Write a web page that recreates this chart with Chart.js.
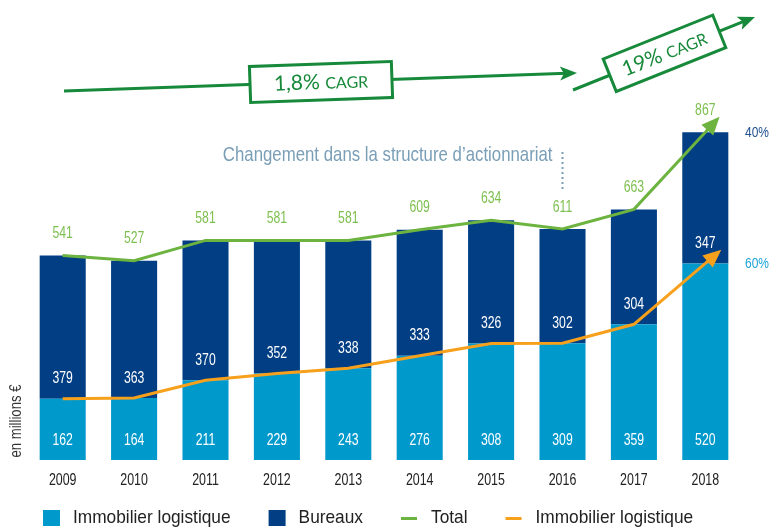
<!DOCTYPE html>
<html>
<head>
<meta charset="utf-8">
<script src="https://cdn.jsdelivr.net/npm/chart.js@4.4.0/dist/chart.umd.min.js"></script>
<style>
  html, body { margin: 0; padding: 0; background: #fff; }
</style>
</head>
<body>
<canvas id="chart" width="771" height="528"></canvas>
<script>
const years = ['2009', '2010', '2011', '2012', '2013', '2014', '2015', '2016', '2017', '2018'];
const logistique = [162, 164, 211, 229, 243, 276, 308, 309, 359, 520];
const bureaux = [379, 363, 370, 352, 338, 333, 326, 302, 304, 347];
const total = [541, 527, 581, 581, 581, 609, 634, 611, 663, 867];

const SANS = "'Liberation Sans', Arial, sans-serif";
const LIGHT = '#0099cb';
const DARK = '#023e84';
const GREEN = '#6cb33f';
const ORANGE = '#f6a01c';
const CAGR = '#17893a';

// no condensed face is installed, so squeeze Liberation Sans horizontally
function narrow(ctx, str, x, y, size, sx, color, align) {
  ctx.save();
  ctx.translate(x, y);
  ctx.scale(sx, 1);
  ctx.font = size + 'px ' + SANS;
  ctx.fillStyle = color;
  ctx.textAlign = align || 'center';
  ctx.textBaseline = 'middle';
  ctx.fillText(str, 0, 0);
  const w = ctx.measureText(str).width * sx;
  ctx.restore();
  return w;
}

// white values inside each bar segment + green totals above the line
const valueLabels = {
  id: 'valueLabels',
  afterDatasetsDraw(chart) {
    const ctx = chart.ctx;
    [0, 1].forEach(di => {
      const ds = chart.data.datasets[di];
      chart.getDatasetMeta(di).data.forEach((el, i) => {
        const p = el.getProps(['x', 'base'], true);
        narrow(ctx, String(ds.data[i]), p.x, p.base - 20, 16.5, 0.74, '#fff');
      });
    });
    const tds = chart.data.datasets[2];
    chart.getDatasetMeta(2).data.forEach((el, i) => {
      narrow(ctx, String(tds.data[i]), el.x, el.y - 22, 16.5, 0.74, '#7dbf4f');
    });
  }
};

// arrow heads at the end of both lines
const lineArrows = {
  id: 'lineArrows',
  afterDatasetsDraw(chart) {
    const ctx = chart.ctx;
    [2, 3].forEach(di => {
      const pts = chart.getDatasetMeta(di).data;
      const a = pts[pts.length - 2], b = pts[pts.length - 1];
      const dx = b.x - a.x, dy = b.y - a.y;
      const len = Math.hypot(dx, dy);
      const ux = dx / len, uy = dy / len;
      const color = chart.data.datasets[di].borderColor;
      ctx.save();
      ctx.strokeStyle = color;
      ctx.fillStyle = color;
      ctx.lineWidth = 3;
      ctx.beginPath();
      ctx.moveTo(b.x, b.y);
      ctx.lineTo(b.x + ux * 8, b.y + uy * 8);
      ctx.stroke();
      const tx = b.x + ux * 21, ty = b.y + uy * 21;
      const bx = b.x + ux * 3, by = b.y + uy * 3;
      ctx.beginPath();
      ctx.moveTo(tx, ty);
      ctx.lineTo(bx - uy * 8, by + ux * 8);
      ctx.lineTo(bx + uy * 8, by - ux * 8);
      ctx.closePath();
      ctx.fill();
      ctx.restore();
    });
  }
};

function cagrArrow(ctx, x0, y0, x1, y1, cx, bw, bh, big, small) {
  const ang = Math.atan2(y1 - y0, x1 - x0);
  const ux = Math.cos(ang), uy = Math.sin(ang);
  ctx.save();
  ctx.strokeStyle = CAGR;
  ctx.fillStyle = CAGR;
  ctx.lineWidth = 3;
  ctx.beginPath();
  ctx.moveTo(x0, y0);
  ctx.lineTo(x1 - ux * 10, y1 - uy * 10);
  ctx.stroke();
  ctx.beginPath();
  ctx.moveTo(x1, y1);
  ctx.lineTo(x1 - ux * 17 - uy * 7, y1 - uy * 17 + ux * 7);
  ctx.lineTo(x1 - ux * 13, y1 - uy * 13);
  ctx.lineTo(x1 - ux * 17 + uy * 7, y1 - uy * 17 - ux * 7);
  ctx.closePath();
  ctx.fill();
  const cy = y0 + (cx - x0) * Math.tan(ang);
  ctx.translate(cx, cy);
  ctx.rotate(ang);
  ctx.fillStyle = '#fff';
  ctx.fillRect(-bw / 2, -bh / 2, bw, bh);
  ctx.strokeRect(-bw / 2, -bh / 2, bw, bh);
  ctx.fillStyle = CAGR;
  ctx.textBaseline = 'alphabetic';
  ctx.font = '21px Lato, sans-serif';
  const w1 = ctx.measureText(big).width;
  ctx.font = '16px Lato, sans-serif';
  const w2 = ctx.measureText(small).width;
  const x = -(w1 + w2) / 2;
  ctx.font = '21px Lato, sans-serif';
  ctx.fillText(big, x, 7);
  ctx.font = '16px Lato, sans-serif';
  ctx.fillText(small, x + w1, 7);
  ctx.restore();
}

const annotations = {
  id: 'annotations',
  afterDraw(chart) {
    const ctx = chart.ctx;
    const xs = chart.scales.x;

    // category labels under the bars
    chart.data.labels.forEach((lab, i) => {
      narrow(ctx, lab, xs.getPixelForValue(i), 480, 17, 0.73, '#222');
    });

    cagrArrow(ctx, 64, 91, 577, 73, 321, 142, 36, '1,8% ', 'CAGR');
    cagrArrow(ctx, 573, 90, 755, 17, 664.5, 118, 35, '19% ', 'CAGR');

    // shareholder change note at 2016
    const dx = xs.getPixelForValue(years.indexOf('2016'));
    ctx.save();
    ctx.strokeStyle = '#7a9eb6';
    ctx.lineWidth = 2;
    ctx.setLineDash([2, 3]);
    ctx.beginPath();
    ctx.moveTo(dx, 152);
    ctx.lineTo(dx, 190);
    ctx.stroke();
    ctx.restore();
    narrow(ctx, 'Changement dans la structure d\u2019actionnariat', dx - 10, 155, 21, 0.80, '#7a9eb6', 'right');

    // shares of the last bar
    const last = years.length - 1;
    const lb = chart.getDatasetMeta(1).data[last];
    const ll = chart.getDatasetMeta(0).data[last];
    narrow(ctx, Math.round(bureaux[last] / total[last] * 100) + '%', 757, lb.y + 1, 15, 0.8, '#1f4f8f');
    narrow(ctx, Math.round(logistique[last] / total[last] * 100) + '%', 757, ll.y, 15, 0.8, '#1ea3d6');

    // unit label
    ctx.save();
    ctx.translate(17, 421);
    ctx.rotate(-Math.PI / 2);
    narrow(ctx, 'en millions \u20ac', 0, 0, 16, 0.82, '#333');
    ctx.restore();

    // legend
    let x = 43;
    const y = 518;
    chart.data.datasets.forEach(ds => {
      if (ds.type === 'bar') {
        ctx.fillStyle = ds.backgroundColor;
        ctx.fillRect(x, y - 8, 17, 16);
      } else {
        ctx.fillStyle = ds.borderColor;
        ctx.fillRect(x, y - 1, 16, 3);
      }
      x += 30;
      x += narrow(ctx, ds.label, x, y, 19, 0.91, '#222', 'left');
      x += 38;
    });
  }
};

new Chart(document.getElementById('chart').getContext('2d'), {
  data: {
    labels: years,
    datasets: [{
      type: 'bar',
      label: 'Immobilier logistique',
      data: logistique,
      backgroundColor: LIGHT,
      stack: 'bars',
      order: 2,
      categoryPercentage: 1,
      barPercentage: 0.645
    }, {
      type: 'bar',
      label: 'Bureaux',
      data: bureaux,
      backgroundColor: DARK,
      stack: 'bars',
      order: 2,
      categoryPercentage: 1,
      barPercentage: 0.645
    }, {
      type: 'line',
      label: 'Total',
      data: total,
      borderColor: GREEN,
      borderWidth: 3,
      pointRadius: 0,
      tension: 0,
      stack: 'total',
      order: 1
    }, {
      type: 'line',
      label: 'Immobilier logistique',
      data: logistique,
      borderColor: ORANGE,
      borderWidth: 3,
      pointRadius: 0,
      tension: 0,
      stack: 'logi',
      order: 1
    }]
  },
  options: {
    responsive: false,
    animation: false,
    devicePixelRatio: 1,
    layout: { padding: { left: 27, right: 30, top: 82, bottom: 68 } },
    plugins: {
      legend: { display: false },
      tooltip: { enabled: false }
    },
    scales: {
      x: {
        stacked: true,
        grid: { display: false, drawTicks: false },
        border: { display: false },
        ticks: { display: false }
      },
      y: {
        stacked: true,
        display: false,
        min: 0,
        max: 1000
      }
    }
  },
  plugins: [valueLabels, lineArrows, annotations]
});
</script>
</body>
</html>
